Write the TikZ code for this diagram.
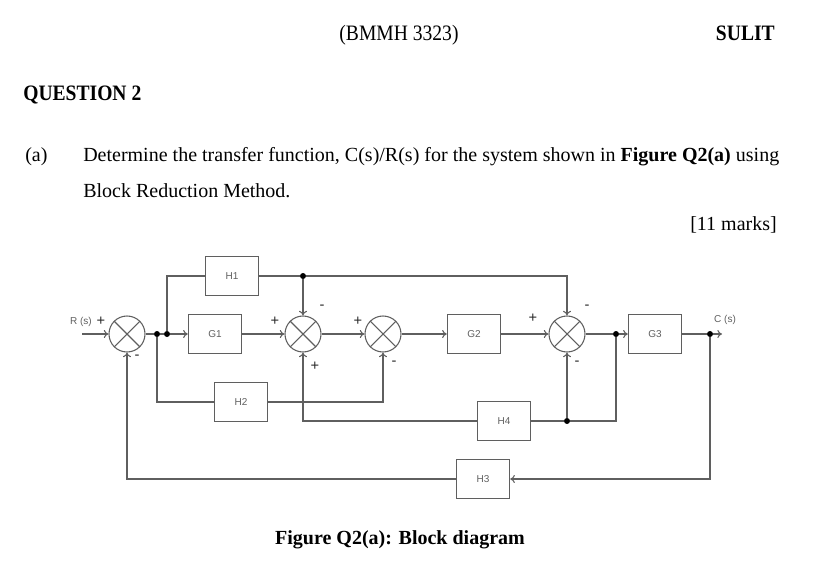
\documentclass[tikz,border=0pt]{standalone}
\usepackage{fontspec}
\setmainfont{Liberation Serif}
\newfontfamily\diagfont{Liberation Sans}
\usetikzlibrary{arrows.meta}
\definecolor{wire}{RGB}{95,95,95}

\begin{document}
\begin{tikzpicture}[x=0.75pt,y=-0.75pt,>={To[length=3.5pt,width=6pt]},
    block/.style={draw=wire,line width=0.8pt,minimum width=40pt,minimum height=29.5pt,inner sep=0pt,font=\diagfont\fontsize{7.5}{9}\selectfont,text=wire},
    sum/.style={circle,draw=wire,line width=0.8pt,minimum size=27pt,inner sep=0pt},
    dot/.style={circle,fill=black,minimum size=4.5pt,inner sep=0pt},
    sign/.style={font=\diagfont\fontsize{11}{12}\selectfont,text=black!85,inner sep=0pt},
    conn/.style={draw=wire,line width=0.8pt}]
    \useasboundingbox (0,0) rectangle (830,577);

    % Page header
    \node[anchor=base,inner sep=0pt] (code) at (399,41) {\scalebox{0.89}[1]{\fontsize{16.5}{20}\selectfont (BMMH 3323)}};
    \node[anchor=base east,inner sep=0pt] (sulit) at (775,41) {\scalebox{0.89}[1]{\fontsize{16.5}{20}\selectfont\bfseries SULIT}};
    \node[anchor=base west,inner sep=0pt] (question) at (23,101) {\scalebox{0.89}[1]{\fontsize{16.5}{20}\selectfont\bfseries QUESTION 2}};

    % Question text
    \node[anchor=base west,inner sep=0pt,font=\fontsize{15}{18}\selectfont] (part) at (25,162) {(a)};
    \node[anchor=base west,inner sep=0pt,font=\fontsize{15}{18}\selectfont] (task1) at (83,162) {\makebox[522pt][s]{Determine the transfer function, C(s)/R(s) for the system shown in \textbf{Figure Q2(a)} using}};
    \node[anchor=base west,inner sep=0pt,font=\fontsize{15}{18}\selectfont] (task2) at (83,197) {Block Reduction Method.};
    \node[anchor=base east,inner sep=0pt,font=\fontsize{15}{18}\selectfont] (marks) at (777,230) {[11 marks]};

    % Forward path
    \node[sum] (s1) at (127,334) {};
    \node[dot] (d1) at (157,334) {};
    \node[dot] (d2) at (167,334) {};
    \node[block] (g1) at (215,334) {G1};
    \node[block] (h1) at (232,276) {H1};
    \node[dot] (d3) at (303,276) {};
    \node[sum] (s2) at (303,334) {};
    \node[sum] (s3) at (383,334) {};
    \node[block] (g2) at (474,334) {G2};
    \node[sum] (s4) at (567,334) {};
    \node[dot] (d4) at (616,334) {};
    \node[block] (g3) at (655,334) {G3};
    \node[dot] (d5) at (710,334) {};
    \coordinate (in) at (82,334);
    \coordinate (out) at (722,334);

    % Feedback blocks
    \node[block] (h2) at (241,402) {H2};
    \node[block] (h4) at (504,421) {H4};
    \node[dot] (d6) at (567,421) {};
    \node[block] (h3) at (483,479) {H3};

    % Crosses in the summing points
    \foreach \s in {s1,s2,s3,s4}
        \draw[conn] (\s.north west) -- (\s.south east) (\s.north east) -- (\s.south west);

    % Main line
    \draw[conn,->] (in) -- (s1);
    \draw[conn] (s1) -- (d1) -- (d2);
    \draw[conn,->] (d2) -- (g1);
    \draw[conn,->] (g1) -- (s2);
    \draw[conn,->] (s2) -- (s3);
    \draw[conn,->] (s3) -- (g2);
    \draw[conn,->] (g2) -- (s4);
    \draw[conn] (s4) -- (d4);
    \draw[conn,->] (d4) -- (g3);
    \draw[conn] (g3) -- (d5);
    \draw[conn,->] (d5) -- (out);

    % Loops
    \draw[conn] (d2) |- (h1);
    \draw[conn] (h1) -- (d3);
    \draw[conn,->] (d3) -- (s2);
    \draw[conn,->] (d3) -| (s4);
    \draw[conn] (d1) |- (h2);
    \draw[conn,->] (h2) -| (s3);
    \draw[conn] (d4) |- (d6);
    \draw[conn,->] (d6) -- (s4);
    \draw[conn] (d6) -- (h4);
    \draw[conn,->] (h4) -| (s2);
    \draw[conn,->] (d5) |- (h3);
    \draw[conn,->] (h3) -| (s1);

    % Signs and signal names
    \node[sign,font=\diagfont\fontsize{7.5}{9}\selectfont,text=wire] (rin) at (81,322) {R (s)};
    \node[sign] (p1) at (101,321) {+};
    \node[sign] (m1) at (137,357) {-};
    \node[sign] (p2a) at (275,321) {+};
    \node[sign] (m2) at (322,307) {-};
    \node[sign] (p2b) at (315,366) {+};
    \node[sign] (p3) at (358,321) {+};
    \node[sign] (m3) at (394,363) {-};
    \node[sign] (p4) at (533,318) {+};
    \node[sign] (m4a) at (587,307) {-};
    \node[sign] (m4b) at (577,363) {-};
    \node[sign,font=\diagfont\fontsize{7.5}{9}\selectfont,text=wire] (cout) at (725,320) {C (s)};

    % Caption
    \node[anchor=base,font=\bfseries\fontsize{15}{18}\selectfont] (caption) at (400,544) {Figure Q2(a): Block diagram};
\end{tikzpicture}
\end{document}
